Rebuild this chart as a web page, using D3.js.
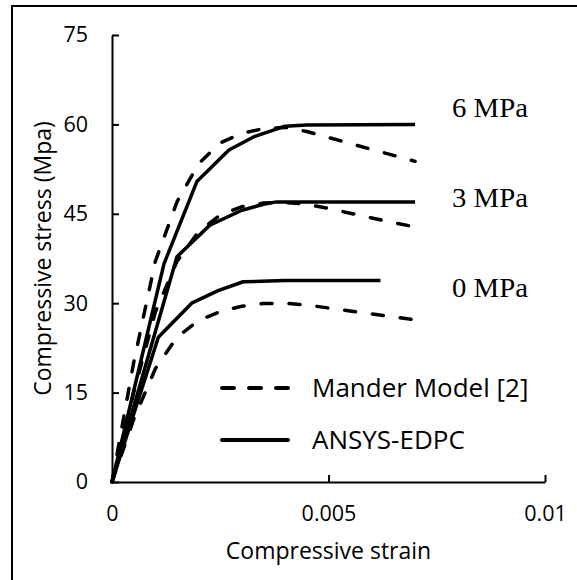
<!DOCTYPE html>
<html lang="en">
<head>
    <meta charset="UTF-8">
    <title>Compressive stress-strain</title>
    <script src="https://cdn.jsdelivr.net/npm/d3@7"></script>
    <style>
        body { margin: 0; background: #fff; }
        svg { display: block; }
    </style>
</head>
<body>
<div id="chart"></div>
<script>

    // x ticks / y ticks
    const xTicks = [0, 0.005, 0.01];
    const yTicks = [0, 15, 30, 45, 60, 75];

    // Mander model curves (strain, stress)
    const mander0 = [[0, 0], [0.0005, 10.5], [0.001, 19], [0.0015, 24.3], [0.002, 27.1], [0.0025, 28.6], [0.003, 29.5], [0.0035, 29.95], [0.004, 30], [0.0045, 29.7], [0.005, 29.2], [0.0055, 28.7], [0.006, 28.2], [0.0065, 27.7], [0.007, 27.2]];
    const mander3 = [[0, 0], [0.0005, 15], [0.001, 28.5], [0.0015, 37], [0.002, 42], [0.0025, 44.8], [0.003, 46.2], [0.0035, 46.8], [0.004, 46.9], [0.0045, 46.6], [0.005, 45.9], [0.0055, 45.1], [0.006, 44.3], [0.0065, 43.5], [0.007, 42.8]];
    const mander6 = [[0, 0], [0.0005, 20], [0.001, 37], [0.0015, 47], [0.002, 53.4], [0.0025, 56.9], [0.003, 58.5], [0.0035, 59.3], [0.004, 59.5], [0.0045, 58.8], [0.005, 57.8], [0.0055, 56.8], [0.006, 55.8], [0.0065, 54.8], [0.007, 53.8]];

    // ANSYS-EDPC curves
    const ansys0 = [[0, 0], [0.00107, 24.3], [0.00184, 30], [0.00245, 32.1], [0.00303, 33.6], [0.004, 33.8], [0.0062, 33.8]];
    const ansys3 = [[0, 0], [0.0015, 37.8], [0.00226, 43.1], [0.003, 45.6], [0.0035, 46.6], [0.0038, 47], [0.007, 47]];
    const ansys6 = [[0, 0], [0.0012, 36.6], [0.00196, 50.4], [0.0027, 55.7], [0.0033, 58], [0.004, 59.7], [0.0045, 59.9], [0.007, 60]];

    // confining pressure labels, anchored on the stress axis
    const pressureLabels = ["6 MPa", "3 MPa", "0 MPa"];
    const pressureAt = [61.2, 46.1, 31.0];
    const legendNames = ["Mander Model [2]", "ANSYS-EDPC"];

    const width = 577;
    const height = 580;
    const sans = "'Open Sans', sans-serif";

    const x = d3.scaleLinear().domain([0, 0.01]).range([112, 545]);
    const y = d3.scaleLinear().domain([0, 75]).range([482, 35]);

    const svg = d3.select("#chart")
        .append("svg")
        .attr("width", width)
        .attr("height", height);

    // outer frame (runs off the right and bottom)
    svg.append("rect")
        .attr("x", 12).attr("y", 6)
        .attr("width", 600).attr("height", 600)
        .attr("fill", "none")
        .attr("stroke", "#000")
        .attr("stroke-width", 2);

    const gx = svg.append("g")
        .attr("transform", `translate(0,${y(0)})`)
        .call(d3.axisBottom(x).tickValues(xTicks).tickFormat(d => String(d))
            .tickSizeInner(-7).tickSizeOuter(0).tickPadding(24));

    const gy = svg.append("g")
        .attr("transform", `translate(${x(0)},0)`)
        .call(d3.axisLeft(y).tickValues(yTicks).tickFormat(d => String(d))
            .tickSizeInner(-7).tickSizeOuter(0).tickPadding(24));

    [gx, gy].forEach(g => {
        g.selectAll("path, line").attr("stroke", "#000").attr("stroke-width", 2);
        g.selectAll("text").attr("font-family", sans).attr("font-size", 21.5).attr("fill", "#000");
    });

    const line = d3.line().x(d => x(d[0])).y(d => y(d[1]));

    // Mander dashed
    svg.append("g")
        .selectAll("path")
        .data([mander0, mander3, mander6])
        .join("path")
        .attr("d", line)
        .attr("fill", "none")
        .attr("stroke", "#000")
        .attr("stroke-width", 3.5)
        .attr("stroke-linecap", "round")
        .attr("stroke-dasharray", "11,17");

    // ANSYS solid
    svg.append("g")
        .selectAll("path")
        .data([ansys0, ansys3, ansys6])
        .join("path")
        .attr("d", line)
        .attr("fill", "none")
        .attr("stroke", "#000")
        .attr("stroke-width", 3.5)
        .attr("stroke-linejoin", "round");

    // confining pressure labels
    svg.append("g")
        .selectAll("text")
        .data(pressureLabels)
        .join("text")
        .attr("x", 452)
        .attr("y", (d, i) => y(pressureAt[i]))
        .attr("font-family", "'Liberation Serif', 'Times New Roman', serif")
        .attr("font-size", 27)
        .attr("textLength", 76)
        .attr("lengthAdjust", "spacingAndGlyphs")
        .text(d => d);

    // legend
    const legend = svg.append("g");
    legendNames.forEach((name, i) => {
        const ly = 388 + i * 52;
        legend.append("line")
            .attr("x1", 222).attr("x2", 288)
            .attr("y1", ly).attr("y2", ly)
            .attr("stroke", "#000")
            .attr("stroke-width", 4)
            .attr("stroke-linecap", "round")
            .attr("stroke-dasharray", i === 0 ? "12,15" : null);
        legend.append("text")
            .attr("x", 312).attr("y", ly)
            .attr("dy", "0.35em")
            .attr("font-family", sans)
            .attr("font-size", 26)
            .text(name);
    });

    // axis titles
    svg.append("text")
        .attr("x", x(0.005)).attr("y", 559)
        .attr("text-anchor", "middle")
        .attr("font-family", sans)
        .attr("font-size", 23)
        .text("Compressive strain");

    svg.append("text")
        .attr("transform", `translate(43,${(y(0) + y(75)) / 2}) rotate(-90)`)
        .attr("text-anchor", "middle")
        .attr("dy", "0.35em")
        .attr("font-family", sans)
        .attr("font-size", 23)
        .text("Compressive stress (Mpa)");

</script>
</body>
</html>
